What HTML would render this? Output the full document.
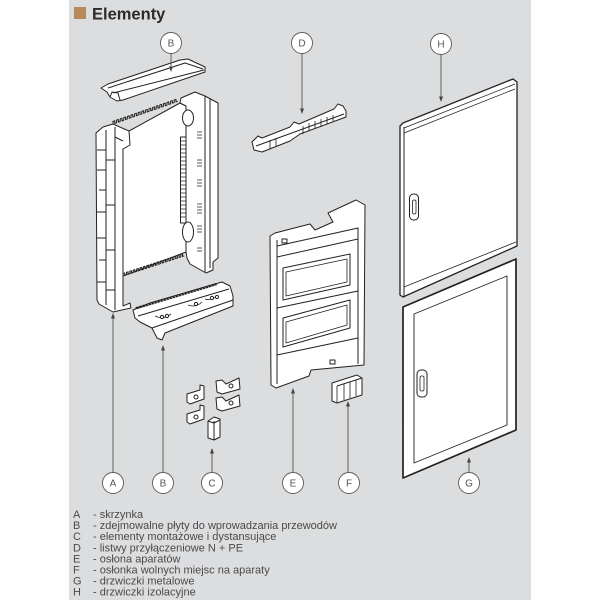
<!DOCTYPE html>
<html><head><meta charset="utf-8">
<style>
html,body{margin:0;padding:0;background:#fff;}
body{width:600px;height:600px;overflow:hidden;position:relative;}
svg{position:absolute;left:0;top:0;}
</style></head><body>
<svg width="600" height="600" viewBox="0 0 600 600" xmlns="http://www.w3.org/2000/svg">
<rect x="0" y="0" width="600" height="600" fill="#ffffff"/>
<rect x="69" y="0" width="462" height="600" fill="#dcdddf"/>

<!-- Title -->
<rect x="74" y="7" width="12" height="12" fill="#b98a5d"/>
<text x="92" y="19.5" font-family="Liberation Sans, sans-serif" font-weight="bold" font-size="16.5" fill="#2b2b2b">Elementy</text>

<g fill="#fff" stroke="#222" stroke-width="1" stroke-linejoin="round">
<!-- B top plate -->
<polygon points="101,88 108,84 180,60 188,59 205,67 205,72 123,100 117,101 110,97 107,92"/>
<polyline fill="none" points="108,88 185,63 203,69"/>
<polyline fill="none" points="113,93 204,70"/>
<polyline fill="none" points="110,97 112,92 118,93 120,100"/>

<!-- A box: back panel -->
<polygon points="123,149 129,145 129,131 180,103 186,106 186,252 123,276"/>
<!-- top teeth -->
<path fill="none" d="M113,124 v-2.6 l1.8,-0.63 v2.6 l1.8,-0.63 v-2.6 l1.8,-0.63 v2.6 l1.8,-0.63 v-2.6 l1.8,-0.63 v2.6 l1.8,-0.63 v-2.6 l1.8,-0.63 v2.6 l1.8,-0.63 v-2.6 l1.8,-0.63 v2.6 l1.8,-0.63 v-2.6 l1.8,-0.63 v2.6 l1.8,-0.63 v-2.6 l1.8,-0.63 v2.6 l1.8,-0.63 v-2.6 l1.8,-0.63 v2.6 l1.8,-0.63 v-2.6 l1.8,-0.63 v2.6 l1.8,-0.63 v-2.6 l1.8,-0.63 v2.6 l1.8,-0.63 v-2.6 l1.8,-0.63 v2.6 l1.8,-0.63 v-2.6 l1.8,-0.63 v2.6 l1.8,-0.63 v-2.6 l1.8,-0.63 v2.6 l1.8,-0.63 v-2.6 l1.8,-0.63 v2.6 l1.8,-0.63 v-2.6 l1.8,-0.63 v2.6 l1.8,-0.63 v-2.6 l1.8,-0.63 v2.6 l1.8,-0.63 v-2.6 l1.8,-0.63 v2.6 l1.8,-0.63 v-2.6 l1.8,-0.63 v2.6 l1.8,-0.63"/>
<!-- bottom teeth -->
<path fill="none" d="M123,276 v-2.5 l1.7,-0.56 v2.5 l1.7,-0.56 v-2.5 l1.7,-0.56 v2.5 l1.7,-0.56 v-2.5 l1.7,-0.56 v2.5 l1.7,-0.56 v-2.5 l1.7,-0.56 v2.5 l1.7,-0.56 v-2.5 l1.7,-0.56 v2.5 l1.7,-0.56 v-2.5 l1.7,-0.56 v2.5 l1.7,-0.56 v-2.5 l1.7,-0.56 v2.5 l1.7,-0.56 v-2.5 l1.7,-0.56 v2.5 l1.7,-0.56 v-2.5 l1.7,-0.56 v2.5 l1.7,-0.56 v-2.5 l1.7,-0.56 v2.5 l1.7,-0.56 v-2.5 l1.7,-0.56 v2.5 l1.7,-0.56 v-2.5 l1.7,-0.56 v2.5 l1.7,-0.56 v-2.5 l1.7,-0.56 v2.5 l1.7,-0.56 v-2.5 l1.7,-0.56 v2.5 l1.7,-0.56 v-2.5 l1.7,-0.56 v2.5 l1.7,-0.56 v-2.5 l1.7,-0.56 v2.5 l1.7,-0.56 v-2.5 l1.7,-0.56 v2.5 l1.7,-0.56 v-2.5 l1.7,-0.56 v2.5 l1.7,-0.56"/>
<!-- left wall -->
<polygon points="96,133 103,127 113,124 129,131 130,145 123,149 123,306 130,303 131,308 113,312 99,304 97,300"/>
<polyline fill="none" points="106,130 106,305"/>
<polyline fill="none" points="115,127 115,310"/>
<polyline fill="none" points="115,137 123,141"/>
<path fill="none" d="M97,150 h9 M97,170 h9 M99,190 h7 M97,212 h9 M97,238 h9 M99,260 h7 M97,282 h9 M106,160 h9 M106,205 h9 M106,250 h9 M106,290 h9"/>
<!-- right wall -->
<polygon points="180,103 181,98 195,92 205,96 218,103 218,258 213,262 213,270 206,273 190,264 187,258 186,252 186,106"/>
<polyline fill="none" points="205,96 205,272"/>
<polyline fill="none" points="210,99 210,268"/>
<ellipse cx="188" cy="118" rx="5.5" ry="8"/>
<ellipse cx="188" cy="232" rx="5.5" ry="10"/>
<rect x="180.5" y="137" width="5.5" height="86"/>
<path fill="none" stroke-width="0.7" d="M180.5,141 h5.5 M180.5,145 h5.5 M180.5,149 h5.5 M180.5,153 h5.5 M180.5,157 h5.5 M180.5,161 h5.5 M180.5,165 h5.5 M180.5,169 h5.5 M180.5,173 h5.5 M180.5,177 h5.5 M180.5,181 h5.5 M180.5,185 h5.5 M180.5,189 h5.5 M180.5,193 h5.5 M180.5,197 h5.5 M180.5,201 h5.5 M180.5,205 h5.5 M180.5,209 h5.5 M180.5,213 h5.5 M180.5,217 h5.5"/>
<path fill="none" stroke-width="0.8" d="M197,132 h5 M197,135 h5 M197,138 h5 M197,160 h5 M197,163 h5 M197,166 h5 M197,180 h5 M197,183 h5 M197,186 h5 M197,204 h5 M197,207 h5 M197,210 h5 M197,213 h5 M197,226 h5 M197,229 h5 M197,232 h5 M197,248 h5 M197,251 h5"/>

<!-- B bottom plate -->
<polygon points="133,310 150,303 222,282 230,286 233,296 233,306 165,333 162,340 157,338 152,328 140,322 135,318"/>
<path fill="none" d="M136,309 v-1.5 l1.5,-0.45 v1.5 l1.5,-0.45 v-1.5 l1.5,-0.45 v1.5 l1.5,-0.45 v-1.5 l1.5,-0.45 v1.5 l1.5,-0.45 v-1.5 l1.5,-0.45 v1.5 l1.5,-0.45 v-1.5 l1.5,-0.45 v1.5 l1.5,-0.45 v-1.5 l1.5,-0.45 v1.5 l1.5,-0.45 v-1.5 l1.5,-0.45 v1.5 l1.5,-0.45 v-1.5 l1.5,-0.45 v1.5 l1.5,-0.45 v-1.5 l1.5,-0.45 v1.5 l1.5,-0.45 v-1.5 l1.5,-0.45 v1.5 l1.5,-0.45 v-1.5 l1.5,-0.45 v1.5 l1.5,-0.45 v-1.5 l1.5,-0.45 v1.5 l1.5,-0.45 v-1.5 l1.5,-0.45 v1.5 l1.5,-0.45 v-1.5 l1.5,-0.45 v1.5 l1.5,-0.45 v-1.5 l1.5,-0.45 v1.5 l1.5,-0.45 v-1.5 l1.5,-0.45 v1.5 l1.5,-0.45 v-1.5 l1.5,-0.45 v1.5 l1.5,-0.45 v-1.5 l1.5,-0.45 v1.5 l1.5,-0.45 v-1.5 l1.5,-0.45 v1.5 l1.5,-0.45 v-1.5 l1.5,-0.45 v1.5 l1.5,-0.45 v-1.5 l1.5,-0.45 v1.5 l1.5,-0.45 v-1.5 l1.5,-0.45 v1.5 l1.5,-0.45 v-1.5 l1.5,-0.45 v1.5 l1.5,-0.45 v-1.5 l1.5,-0.45 v1.5 l1.5,-0.45 v-1.5 l1.5,-0.45 v1.5 l1.5,-0.45 v-1.5 l1.5,-0.45 v1.5 l1.5,-0.45 v-1.5 l1.5,-0.45 v1.5 l1.5,-0.45"/>
<polyline fill="none" points="138,316 229,289"/>
<polyline fill="none" points="152,328 233,300"/>
<path fill="none" stroke-width="0.8" d="M155,316 q8,4 16,-2 M188,305 q8,3 14,-3 M205,299 q6,2 12,-3"/>
<circle cx="162" cy="317" r="1.6"/><circle cx="167" cy="316" r="1.6"/><circle cx="196" cy="304" r="1.6"/><circle cx="212" cy="298" r="1.6"/><circle cx="217" cy="297" r="1.6"/>

<!-- C parts -->
<polygon points="187,394 200,390 200,385 204,386 204,399 190,404 187,402"/>
<circle cx="196" cy="397" r="2"/>
<polygon points="216,381 222,380 226,384 239,378 240,389 222,394 217,392"/>
<circle cx="231" cy="386" r="2"/>
<polygon points="216,398 222,397 226,401 239,395 240,406 222,411 217,409"/>
<circle cx="231" cy="403" r="2"/>
<polygon points="187,414 200,410 200,405 204,406 204,419 190,424 187,422"/>
<circle cx="196" cy="417" r="2"/>
<polygon points="208,421 214,417 220,419 220,437 214,440 208,438"/>
<polyline fill="none" points="214,421 214,440"/>
<polyline fill="none" points="208,421 214,423 220,420"/>

<!-- D rail -->
<polygon points="252,142 258,136 262,138 290,127 294,122 299,124 334,109 338,104 343,106 346,111 346,117 300,134 290,141 262,152 254,150"/>
<polyline fill="none" points="256,146 344,114"/>
<path fill="none" stroke-width="0.8" d="M270,140 v9 M276,138 v9 M303,126 v8 M309,123 v8 M315,121 v8 M321,119 v8 M327,117 v7 M333,115 v6"/>

<!-- E cover -->
<polygon points="270,236 275,233 310,224 315,230 333,222 328,213 356,200 365,205 364,365 311,370 309,376 276,388 271,385"/>
<polyline fill="none" points="277,240 277,384"/>
<polyline fill="none" points="277,246 358,228 358,364"/>
<polyline fill="none" points="277,257 358,239"/>
<polygon points="283,268 350,254 350,285 283,300"/>
<polygon fill="none" stroke-width="0.8" points="286,272 347,259 347,282 286,296"/>
<polyline fill="none" points="277,308 358,291"/>
<polygon points="283,318 350,300 350,328 283,347"/>
<polygon fill="none" stroke-width="0.8" points="286,322 347,305 347,325 286,343"/>
<polyline fill="none" points="277,355 358,338"/>
<rect x="282" y="239" width="5" height="4"/>
<rect x="330" y="360" width="5" height="4"/>

<!-- F -->
<polygon points="332,383 357,375 362,378 362,395 337,403 332,401"/>
<polyline fill="none" points="337,386 362,378"/>
<path fill="none" stroke-width="0.8" d="M337,386 v17 M344,384 v16 M350,382 v16 M356,380 v16"/>

<!-- H door -->
<polygon stroke-width="1.3" points="400,126 403,123 513,79 517,82 517,246 403,297 400,295"/>
<polyline fill="none" points="404,127 404,297"/>
<polyline fill="none" stroke-width="0.8" points="404,128 515,84"/>
<polyline fill="none" stroke-width="0.8" points="404,133 515,89"/>
<polyline fill="none" stroke-width="0.8" points="404,287 516,242"/>
<rect x="409.5" y="194" width="9" height="26" rx="4"/>
<rect x="412.5" y="200" width="3.5" height="14" rx="1.5" stroke-width="0.8"/>

<!-- G door -->
<polygon stroke-width="1.7" points="403,307 516,259 516,430 403,478"/>
<polygon stroke-width="0.9" points="414,314 507,276 507,425 414,463"/>
<rect x="417" y="370" width="10" height="27" rx="4"/>
<rect x="420" y="376" width="4" height="15" rx="1.5" stroke-width="0.8"/>
</g>

<!-- connectors -->
<g stroke="#555" stroke-width="0.9" fill="none">
<line x1="171" y1="53.5" x2="171" y2="68"/>
<line x1="302" y1="53.5" x2="302" y2="110"/>
<line x1="441" y1="54.5" x2="441" y2="98"/>
<line x1="113" y1="472.5" x2="113" y2="317"/>
<line x1="163" y1="472.5" x2="163" y2="349"/>
<line x1="212" y1="472.5" x2="212" y2="452"/>
<line x1="293" y1="472.5" x2="293" y2="392"/>
<line x1="348" y1="472.5" x2="348" y2="405"/>
<line x1="469" y1="472.5" x2="469" y2="461"/>
</g>
<g fill="#444">
<polygon points="171,72 169,66.5 173,66.5"/>
<polygon points="302,114 300,108.5 304,108.5"/>
<polygon points="441,102 439,96.5 443,96.5"/>
<polygon points="113,313 111,318.5 115,318.5"/>
<polygon points="163,345 161,350.5 165,350.5"/>
<polygon points="212,448 210,453.5 214,453.5"/>
<polygon points="293,388 291,393.5 295,393.5"/>
<polygon points="348,401 346,406.5 350,406.5"/>
<polygon points="469,457 467,462.5 471,462.5"/>
</g>

<!-- circles -->
<g fill="#fff" stroke="#5a5a5a" stroke-width="0.9">
<circle cx="171" cy="43" r="10.5"/>
<circle cx="302" cy="43" r="10.5"/>
<circle cx="441" cy="44" r="10.5"/>
<circle cx="113" cy="483" r="10.5"/>
<circle cx="163" cy="483" r="10.5"/>
<circle cx="212" cy="483" r="10.5"/>
<circle cx="293" cy="483" r="10.5"/>
<circle cx="349" cy="483" r="10.5"/>
<circle cx="469" cy="483" r="10.5"/>
</g>
<g font-family="Liberation Sans, sans-serif" font-size="10" fill="#555" text-anchor="middle">
<text x="171" y="46.6">B</text>
<text x="302" y="46.6">D</text>
<text x="441" y="47.6">H</text>
<text x="113" y="486.6">A</text>
<text x="163" y="486.6">B</text>
<text x="212" y="486.6">C</text>
<text x="293" y="486.6">E</text>
<text x="349" y="486.6">F</text>
<text x="469" y="486.6">G</text>
</g>

<!-- legend -->
<g font-family="Liberation Sans, sans-serif" font-size="11" fill="#4a4a4a">
<text x="73" y="518">A</text><text x="93" y="518">- skrzynka</text>
<text x="73" y="529.1">B</text><text x="93" y="529.1">- zdejmowalne płyty do wprowadzania przewodów</text>
<text x="73" y="540.2">C</text><text x="93" y="540.2">- elementy montażowe i dystansujące</text>
<text x="73" y="551.3">D</text><text x="93" y="551.3">- listwy przyłączeniowe N + PE</text>
<text x="73" y="562.4">E</text><text x="93" y="562.4">- osłona aparatów</text>
<text x="73" y="573.5">F</text><text x="93" y="573.5">- osłonka wolnych miejsc na aparaty</text>
<text x="73" y="584.6">G</text><text x="93" y="584.6">- drzwiczki metalowe</text>
<text x="73" y="595.7">H</text><text x="93" y="595.7">- drzwiczki izolacyjne</text>
</g>
</svg>
</body></html>
